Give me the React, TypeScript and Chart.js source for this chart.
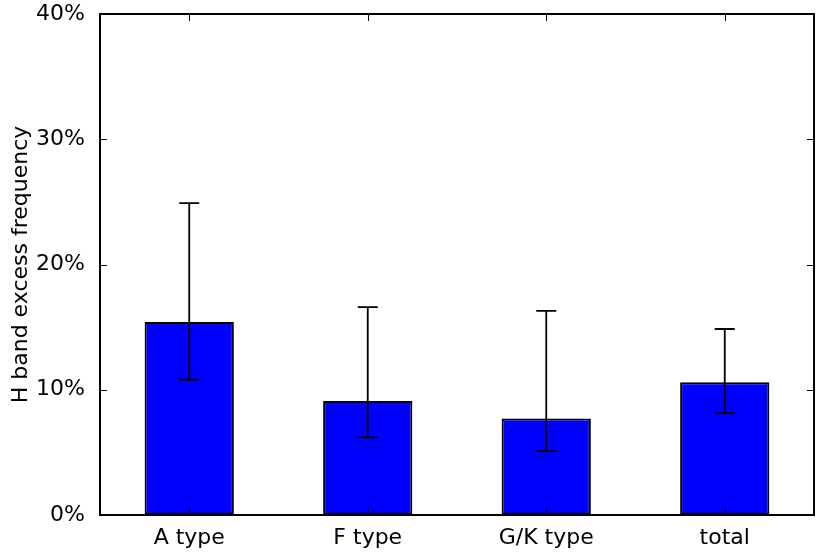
import React, { useEffect, useRef } from "react";
import { Chart, registerables } from "chart.js";

Chart.register(...registerables);

const categories = ["A type", "F type", "G/K type", "total"];
const frequency = [15.4, 9.1, 7.7, 10.6];
const errLow = [10.8, 6.2, 5.1, 8.15];
const errHigh = [24.9, 16.6, 16.3, 14.85];
const yTicks = [0, 10, 20, 30, 40];

const FONT = "'DejaVu Sans', sans-serif";

const framePlugin = {
  id: "framePlugin",
  afterDatasetsDraw(chart: any) {
    const { ctx, chartArea, scales } = chart;
    const { left, right, top, bottom } = chartArea;
    const x = scales.x;
    const y = scales.y;
    ctx.save();
    ctx.strokeStyle = "#000";
    // error bars
    ctx.lineWidth = 1.8;
    for (let i = 0; i < categories.length; i++) {
      const cx = x.getPixelForValue(i);
      const yl = y.getPixelForValue(errLow[i]);
      const yh = y.getPixelForValue(errHigh[i]);
      ctx.beginPath();
      ctx.moveTo(cx, yl);
      ctx.lineTo(cx, yh);
      ctx.moveTo(cx - 10, yl);
      ctx.lineTo(cx + 10, yl);
      ctx.moveTo(cx - 10, yh);
      ctx.lineTo(cx + 10, yh);
      ctx.stroke();
    }
    // ticks
    ctx.lineWidth = 1;
    const tl = 7;
    for (const v of yTicks) {
      const py = Math.round(y.getPixelForValue(v)) + 0.5;
      ctx.beginPath();
      ctx.moveTo(left, py);
      ctx.lineTo(left + tl, py);
      ctx.moveTo(right, py);
      ctx.lineTo(right - tl, py);
      ctx.stroke();
    }
    for (let i = 0; i < categories.length; i++) {
      const px = Math.round(x.getPixelForValue(i)) + 0.5;
      ctx.beginPath();
      ctx.moveTo(px, bottom);
      ctx.lineTo(px, bottom - tl);
      ctx.moveTo(px, top);
      ctx.lineTo(px, top + tl);
      ctx.stroke();
    }
    // frame
    ctx.lineWidth = 2;
    ctx.strokeRect(left, top, right - left, bottom - top);
    ctx.restore();
  },
};

export default function App() {
  const ref = useRef<HTMLCanvasElement>(null);
  useEffect(() => {
    if (!ref.current) return;
    const chart = new Chart(ref.current, {
      type: "bar",
      data: {
        labels: categories,
        datasets: [
          {
            data: frequency,
            backgroundColor: "#0000ff",
            borderColor: "#000",
            borderWidth: 2,
            borderSkipped: false,
            barPercentage: 0.5,
            categoryPercentage: 1,
          },
        ],
      },
      options: {
        animation: false,
        responsive: false,
        devicePixelRatio: 1,
        layout: { padding: { top: 14, right: 16, left: 0, bottom: 0 } },
        plugins: { legend: { display: false }, tooltip: { enabled: false } },
        scales: {
          x: {
            grid: { display: false },
            border: { display: false },
            ticks: { color: "#000", font: { family: FONT, size: 22 }, padding: 2 },
            afterFit: (s: any) => {
              s.height = 39;
              s.paddingLeft = 0;
              s.paddingRight = 0;
            },
          },
          y: {
            min: 0,
            max: 40,
            grid: { display: false },
            border: { display: false },
            afterBuildTicks: (s: any) => {
              s.ticks = yTicks.map((v) => ({ value: v }));
            },
            ticks: {
              color: "#000",
              font: { family: FONT, size: 22 },
              padding: 7,
              callback: (v: any) => v + "%",
            },
            title: {
              display: true,
              text: "H band excess frequency",
              color: "#000",
              font: { family: FONT, size: 22 },
              padding: { top: 8, bottom: 0 },
            },
            afterFit: (s: any) => {
              s.width = 100;
              s.paddingTop = 0;
              s.paddingBottom = 0;
            },
          },
        },
      },
      plugins: [framePlugin],
    });
    return () => chart.destroy();
  }, []);
  return (
    <div style={{ position: "fixed", left: 0, top: 0, width: 830, height: 554, background: "#fff" }}>
      <canvas ref={ref} width={830} height={554} style={{ width: 830, height: 554 }} />
    </div>
  );
}
